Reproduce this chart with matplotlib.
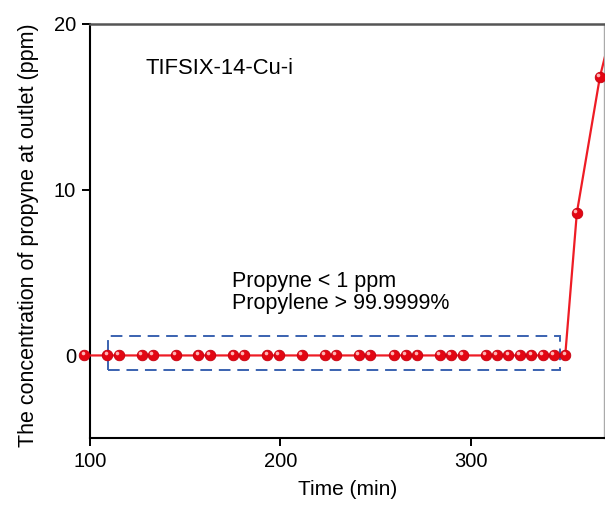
import matplotlib
matplotlib.use('Agg')
import matplotlib.pyplot as plt
import matplotlib.transforms as mtransforms
from matplotlib.patches import Rectangle

plt.rcParams['font.family'] = ['Liberation Sans', 'DejaVu Sans']

# time (min) and outlet propyne concentration (ppm)
time_min = [97.0, 109.1, 115.1, 127.1, 132.9, 145.1, 156.9, 163.0, 175.2, 180.8,
            193.1, 199.2, 211.1, 223.4, 229.1, 241.2, 247.0, 259.6, 265.7, 271.8,
            283.7, 289.5, 295.6, 307.9, 313.5, 319.6, 325.7, 331.7, 337.6, 343.6,
            349.5, 355.6, 367.7, 380.0]
conc_ppm = [0] * 31 + [8.6, 16.8, 22.5]

sample_label = 'TIFSIX-14-Cu-i'
note_text = 'Propyne < 1 ppm\nPropylene > 99.9999%'
box_x = (109.5, 346.5)
box_y = (-0.9, 1.15)

fig = plt.figure(figsize=(6.05, 5.08), dpi=100)
ax = fig.add_axes([0.1488, 0.1372, 0.8500, 0.8156])

# the first point sits a little left of the y axis in the original, so
# clip to a box that reaches past the left spine
clip = Rectangle((-0.04, 0), 1.04, 1, transform=ax.transAxes, fc='none', ec='none')
ax.add_patch(clip)

artists = []
artists += ax.plot(time_min, conc_ppm, color='#ee1c25', lw=1.6, zorder=3)
artists += ax.plot(time_min, conc_ppm, ls='none', marker='o', ms=7.6,
                   mfc='#e30613', mec='#c4000f', mew=0.6, zorder=4)
# little highlight to fake the shaded spheres
hl = mtransforms.offset_copy(ax.transData, fig=fig, x=-1.2, y=1.4, units='points')
artists += ax.plot(time_min, conc_ppm, ls='none', marker='o', ms=2.6,
                   mfc='#ffb4b4', mec='none', transform=hl, zorder=5)
for a in artists:
    a.set_clip_path(clip)

ax.add_patch(Rectangle((box_x[0], box_y[0]), box_x[1] - box_x[0], box_y[1] - box_y[0],
                       fill=False, ec='#3a62b0', lw=1.4, ls=(0, (6, 3.5)), zorder=2))

ax.text(128.9, 17.3, sample_label, fontsize=15.8, va='center', ha='left')
ax.text(174.5, 3.8, note_text, fontsize=15.5, va='center', ha='left', linespacing=1.1)

ax.set_xlim(100, 370)
ax.set_ylim(-5, 20)
ax.set_xticks([100, 200, 300])
ax.set_yticks([0, 10, 20])
ax.tick_params(direction='out', length=6, width=1.4, labelsize=14.5, pad=4)

ax.spines['left'].set_linewidth(1.5)
ax.spines['bottom'].set_linewidth(1.5)
ax.spines['top'].set_color('#555555')
ax.spines['top'].set_linewidth(1.8)
ax.spines['right'].set_color('#aaaaaa')
ax.spines['right'].set_linewidth(1.0)

ax.set_xlabel('Time (min)', fontsize=15)
ax.set_ylabel('The concentration of propyne at outlet (ppm)', fontsize=15.5)
ax.xaxis.set_label_coords(0.5, -0.100)
ax.yaxis.set_label_coords(-0.10, 0.49)

fig.savefig('out.png', dpi=100)
